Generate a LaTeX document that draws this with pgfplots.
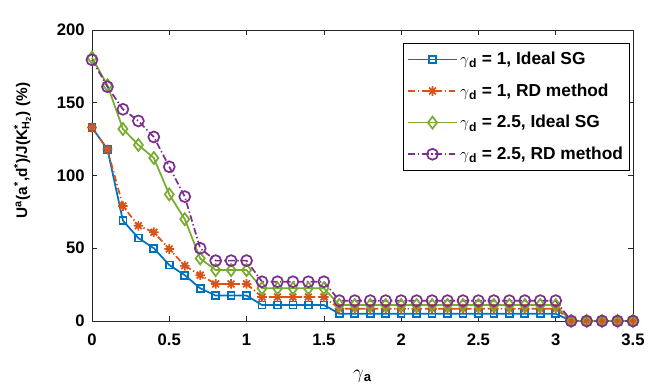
\documentclass[border=0pt]{standalone}
\usepackage{pgfplots}
\pgfplotsset{compat=1.18}
\usepackage{pgfplotstable}
\usepackage{fontspec}
\setmainfont{Liberation Sans}

\definecolor{mblue}{rgb}{0,0.447,0.741}
\definecolor{morange}{rgb}{0.85,0.325,0.098}
\definecolor{mgreen}{rgb}{0.466,0.674,0.188}
\definecolor{mpurple}{rgb}{0.494,0.184,0.556}
\definecolor{axgray}{rgb}{0.15,0.15,0.15}

% matlab-like '*' marker (eight spokes)
\pgfdeclareplotmark{mstar}{%
  \pgfpathmoveto{\pgfqpoint{-\pgfplotmarksize}{0pt}}\pgfpathlineto{\pgfqpoint{\pgfplotmarksize}{0pt}}%
  \pgfpathmoveto{\pgfqpoint{0pt}{-\pgfplotmarksize}}\pgfpathlineto{\pgfqpoint{0pt}{\pgfplotmarksize}}%
  \pgfpathmoveto{\pgfqpoint{-.707\pgfplotmarksize}{-.707\pgfplotmarksize}}\pgfpathlineto{\pgfqpoint{.707\pgfplotmarksize}{.707\pgfplotmarksize}}%
  \pgfpathmoveto{\pgfqpoint{-.707\pgfplotmarksize}{.707\pgfplotmarksize}}\pgfpathlineto{\pgfqpoint{.707\pgfplotmarksize}{-.707\pgfplotmarksize}}%
  \pgfusepathqstroke}

% x: gamma_a; b,o: gamma_d=1 (ideal SG, RD); g,p: gamma_d=2.5 (ideal SG, RD)
\pgfplotstableread{
x    b     o     g     p
0    133   133   181   179.5
0.1  118   118   162   161
0.2  69    79    132   145.5
0.3  57    65.5  121   137.5
0.4  50    61    112   126.5
0.5  38.5  49.5  87    106
0.6  31.5  38    70    85.5
0.7  22.5  31.5  43    50
0.8  17.5  25.5  35    41.5
0.9  17.5  25.5  35    41.5
1.0  17.5  25.5  35    41.5
1.1  11    16.5  22.5  27
1.2  11    16.5  22.5  27
1.3  11    16.5  22.5  27
1.4  11    16.5  22.5  27
1.5  11    16.5  22.5  27
1.6  5     8.5   11    14
1.7  5     8.5   11    14
1.8  5     8.5   11    14
1.9  5     8.5   11    14
2.0  5     8.5   11    14
2.1  5     8.5   11    14
2.2  5     8.5   11    14
2.3  5     8.5   11    14
2.4  5     8.5   11    14
2.5  5     8.5   11    14
2.6  5     8.5   11    14
2.7  5     8.5   11    14
2.8  5     8.5   11    14
2.9  5     8.5   11    14
3.0  5     8.5   11    14
3.1  0     0     0     0
3.2  0     0     0     0
3.3  0     0     0     0
3.4  0     0     0     0
3.5  0     0     0     0
}\datatab

\begin{document}
\begin{tikzpicture}
\path[use as bounding box] (-69pt,-51.75pt) rectangle (425.25pt,240.75pt);
\begin{axis}[
    scale only axis,
    width=405.75pt, height=218.25pt,
    xmin=0, xmax=3.5, ymin=0, ymax=200,
    xtick={0,0.5,1,1.5,2,2.5,3,3.5},
    ytick={0,50,100,150,200},
    clip=false,
    axis line style={axgray, line width=0.5pt},
    major tick style={axgray, line width=0.5pt},
    major tick length=4pt,
    /pgf/number format/assume math mode=true,
    tick label style={font=\fontsize{12.5}{14}\selectfont\bfseries, black},
    yticklabel style={xshift=-2pt},
    xticklabel style={yshift=-6pt},
    xlabel={$\gamma$\textsubscript{\bfseries a}},
    xlabel style={at={(axis description cs:0.5,-0.189)}, anchor=center, font=\fontsize{14}{14}\selectfont},
    ylabel={U\textsuperscript{a}(a\textsuperscript{*},d\textsuperscript{*})/J(K\rlap{\textsuperscript{*}}\textsubscript{H\textsubscript{2}}) (\%)},
    ylabel style={at={(axis description cs:-0.120,0.586)}, anchor=base, font=\fontsize{11.5}{13}\selectfont\bfseries},
    legend style={at={(0.9945,0.955)}, anchor=north east, draw=black, line width=0.5pt,
        font=\fontsize{13}{15}\selectfont\bfseries, row sep=8.8pt, inner ysep=4.5pt, inner xsep=3pt},
    legend cell align=left,
    legend image code/.code={\draw[mark repeat=2,mark phase=2,#1,line width=1.3pt] plot coordinates {(0pt,0pt) (18pt,0pt) (36pt,0pt)};},
    every axis plot/.append style={line width=1.3pt},
]
\addplot[mblue, mark=square, mark size=2.6pt, mark options={solid}] table[x=x,y=b] {\datatab};
\addlegendentry{$\gamma$\textsubscript{d} = 1, Ideal SG}
\addplot[morange, dash pattern=on 5pt off 2pt on 1pt off 2pt, mark=mstar, mark size=3.6pt, mark options={solid}] table[x=x,y=o] {\datatab};
\addlegendentry{$\gamma$\textsubscript{d} = 1, RD method}
\addplot[mgreen, mark=diamond, mark size=4.5pt, mark options={solid}] table[x=x,y=g] {\datatab};
\addlegendentry{$\gamma$\textsubscript{d} = 2.5, Ideal SG}
\addplot[mpurple, dash pattern=on 5pt off 2pt on 1pt off 2pt, mark=o, mark size=4.1pt, mark options={solid}] table[x=x,y=p] {\datatab};
\addlegendentry{$\gamma$\textsubscript{d} = 2.5, RD method}
\end{axis}
\end{tikzpicture}
\end{document}
